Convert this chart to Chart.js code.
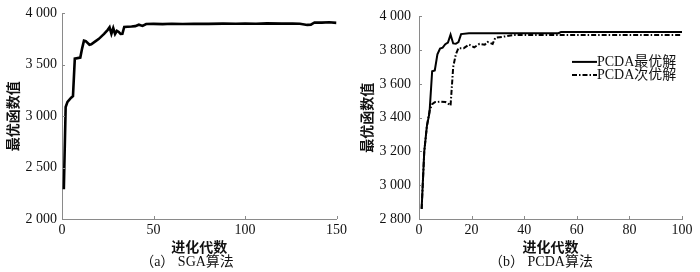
<!DOCTYPE html>
<html>
<head>
<meta charset="utf-8">
<script src="https://cdn.jsdelivr.net/npm/chart.js@4.4.1/dist/chart.umd.min.js"></script>
<style>
  html, body { margin: 0; padding: 0; background: #fff; }
  #wrap { position: relative; width: 700px; height: 272px; }
  canvas { position: absolute; top: 0; }
  .caption {
    position: absolute; top: 253px; transform: translateX(-50%);
    font: 14px "Liberation Serif", "Noto Sans CJK SC", serif; line-height: 18px;
    color: #111; white-space: nowrap;
  }
</style>
</head>
<body>
<div id="wrap">
  <canvas id="sgaChart" width="350" height="272" style="left:0"></canvas>
  <canvas id="pcdaChart" width="350" height="272" style="left:350px"></canvas>
  <div class="caption" style="left:187px">（a） SGA算法</div>
  <div class="caption" style="left:541px">（b） PCDA算法</div>
</div>
<script>
"use strict";

// (a) SGA: generation vs best objective value
const sgaGen = [1, 2, 3, 5, 6, 7, 10, 11, 12, 13, 15, 16, 18, 20, 23, 25, 26, 27, 28, 29,
  30, 31, 32, 33, 34, 38, 40, 42, 44, 46, 50, 55, 60, 66, 72, 80, 88, 95, 100, 106,
  112, 120, 126, 130, 134, 136, 138, 142, 146, 150];
const sgaBest = [2290, 3090, 3140, 3180, 3195, 3560, 3570, 3660, 3735, 3730, 3695, 3700, 3725, 3750, 3800, 3840, 3865, 3802, 3858, 3800,
  3830, 3820, 3800, 3802, 3868, 3872, 3876, 3890, 3878, 3897, 3898, 3896, 3899, 3897, 3900, 3898, 3901, 3899, 3902, 3900,
  3903, 3901, 3902, 3900, 3888, 3890, 3912, 3910, 3914, 3908];

// (b) PCDA: best and second-best solutions
const pcdaBestGen = [1, 2, 3, 4, 5, 6, 7, 8, 9, 10, 11, 12, 13, 14, 15, 16, 19, 53, 54, 100];
const pcdaBest = [2860, 3200, 3350, 3430, 3675, 3680, 3775, 3810, 3815, 3835, 3845, 3892, 3840, 3838, 3848, 3895, 3900, 3900, 3907, 3907];
const pcdaSecondGen = [1, 2, 3, 4, 5, 6, 8, 10, 11, 12, 13, 14, 15, 17, 19, 21, 23, 25, 26, 28, 29, 33, 36, 100];
const pcdaSecond = [2860, 3200, 3350, 3440, 3480, 3492, 3495, 3493, 3485, 3472, 3700, 3775, 3812, 3812, 3833, 3817, 3837, 3832, 3849, 3837, 3873, 3882, 3890, 3890];

const pcdaLabels = ['PCDA最优解', 'PCDA次优解'];

const axisColor = '#8a8a8a';
const tickFont = { family: '"Liberation Serif", serif', size: 14 };
const titleFont = { family: '"Noto Sans CJK SC", sans-serif', size: 14, weight: 'bold' };

function pairs(xs, ys) {
  return xs.map((x, i) => ({ x: x, y: ys[i] }));
}

// "4 000" style labels
function spaced(v) {
  if (v < 1000) return String(v);
  return Math.floor(v / 1000) + ' ' + String(v % 1000).padStart(3, '0');
}

// small tick marks pointing into the plot
const innerTicks = {
  id: 'innerTicks',
  afterDraw(chart) {
    const ctx = chart.ctx;
    const xs = chart.scales.x, ys = chart.scales.y;
    ctx.save();
    ctx.strokeStyle = axisColor;
    ctx.lineWidth = 1;
    xs.ticks.forEach(t => {
      const px = Math.round(xs.getPixelForValue(t.value)) + 0.5;
      ctx.beginPath(); ctx.moveTo(px, xs.top); ctx.lineTo(px, xs.top - 3); ctx.stroke();
    });
    ys.ticks.forEach(t => {
      const py = Math.round(ys.getPixelForValue(t.value)) + 0.5;
      ctx.beginPath(); ctx.moveTo(ys.right, py); ctx.lineTo(ys.right + 3, py); ctx.stroke();
    });
    ctx.restore();
  }
};

// legend drawn inside the plot, upper right
const lineLegend = {
  id: 'lineLegend',
  afterDraw(chart) {
    if (!chart.options.plugins.lineLegend.show) return;
    const ctx = chart.ctx, area = chart.chartArea;
    ctx.save();
    ctx.font = '14px "Liberation Serif", "Noto Sans CJK SC", serif';
    ctx.textBaseline = 'middle';
    ctx.fillStyle = '#111';
    chart.data.datasets.forEach((ds, i) => {
      const y = area.top + 45.5 + i * 13;
      const x0 = area.right - 110;
      ctx.strokeStyle = ds.borderColor;
      ctx.lineWidth = ds.borderWidth;
      ctx.setLineDash(ds.borderDash || []);
      ctx.beginPath(); ctx.moveTo(x0, y); ctx.lineTo(x0 + 25, y); ctx.stroke();
      ctx.fillText(ds.label, x0 + 25, y);
    });
    ctx.restore();
  }
};

function makeChart(id, datasets, cfg) {
  const ctx = document.getElementById(id).getContext('2d');
  return new Chart(ctx, {
    type: 'line',
    data: { datasets: datasets },
    plugins: [innerTicks, lineLegend],
    options: {
      responsive: false,
      animation: false,
      events: [],
      layout: { padding: { top: cfg.top, right: cfg.right, bottom: 17, left: 0 } },
      elements: { point: { radius: 0 }, line: { tension: 0 } },
      plugins: {
        legend: { display: false },
        tooltip: { enabled: false },
        lineLegend: { show: cfg.legend }
      },
      scales: {
        x: {
          type: 'linear',
          min: 0, max: cfg.xMax,
          afterFit: s => { s.height = 36; },
          border: { color: axisColor, width: 1 },
          grid: { display: false, drawTicks: false },
          ticks: { stepSize: cfg.xStep, padding: 3, color: '#111', font: tickFont },
          title: { display: true, text: '进化代数', color: '#111', font: titleFont, padding: 0 }
        },
        y: {
          min: cfg.yMin, max: 4000,
          afterFit: s => { s.width = cfg.yWidth; },
          border: { color: axisColor, width: 1 },
          grid: { display: false, drawTicks: false },
          ticks: { stepSize: cfg.yStep, padding: cfg.yPad, color: '#111', font: tickFont, callback: spaced },
          title: { display: true, text: '最优函数值', color: '#111', font: titleFont, padding: { top: cfg.yTitlePad, bottom: 0 } }
        }
      }
    }
  });
}

makeChart('sgaChart', [{
  label: 'SGA',
  data: pairs(sgaGen, sgaBest),
  borderColor: '#000',
  borderWidth: 2.6
}], { top: 12, right: 9, xMax: 150, xStep: 50, yMin: 2000, yStep: 500, yWidth: 62, yPad: 5, yTitlePad: 4, legend: false });

makeChart('pcdaChart', [{
  label: pcdaLabels[0],
  data: pairs(pcdaBestGen, pcdaBest),
  borderColor: '#000',
  borderWidth: 2
}, {
  label: pcdaLabels[1],
  data: pairs(pcdaSecondGen, pcdaSecond),
  borderColor: '#000',
  borderWidth: 2,
  borderDash: [5, 2, 1.5, 2]
}], { top: 15, right: 18, xMax: 100, xStep: 20, yMin: 2800, yStep: 200, yWidth: 69, yPad: 8, yTitlePad: 8, legend: true });
</script>
</body>
</html>
